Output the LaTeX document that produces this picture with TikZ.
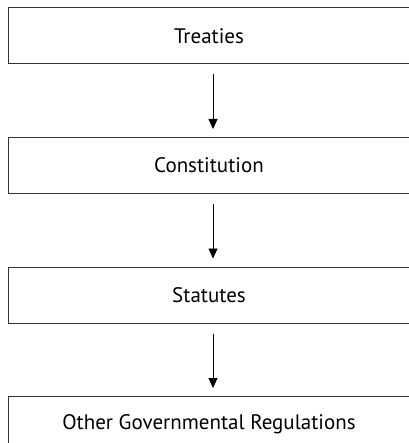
\documentclass[tikz,border=0pt]{standalone}
\usepackage{fontspec}
\setmainfont{PT Sans}
\usepackage{tikz}
\usetikzlibrary{positioning, arrows.meta}

\tikzset{
 levelbox/.style={draw=black!80, line width=1pt, minimum width=402pt, minimum height=56pt, inner sep=0pt, font=\fontsize{21}{24}\selectfont},
 downarrow/.style={-{Triangle[width=9pt,length=10pt]}, line width=0.9pt, shorten <=10pt, shorten >=8pt}
}

\begin{document}
\begin{tikzpicture}[x=1pt,y=1pt]
 \useasboundingbox (0,0) rectangle (408,-443);

 \node[levelbox] (treaties) at (209,-36) {Treaties};
 \node[levelbox, below=72.5pt of treaties] (const) {Constitution};
 \node[levelbox, below=72.5pt of const] (statutes) {Statutes};
 \node[levelbox, below=72.5pt of statutes] (regs) {Other Governmental Regulations};

 \draw[downarrow] ([xshift=4pt]treaties.south) -- ([xshift=4pt]const.north);
 \draw[downarrow] ([xshift=4pt]const.south) -- ([xshift=4pt]statutes.north);
 \draw[downarrow] ([xshift=4pt]statutes.south) -- ([xshift=4pt]regs.north);
\end{tikzpicture}
\end{document}
